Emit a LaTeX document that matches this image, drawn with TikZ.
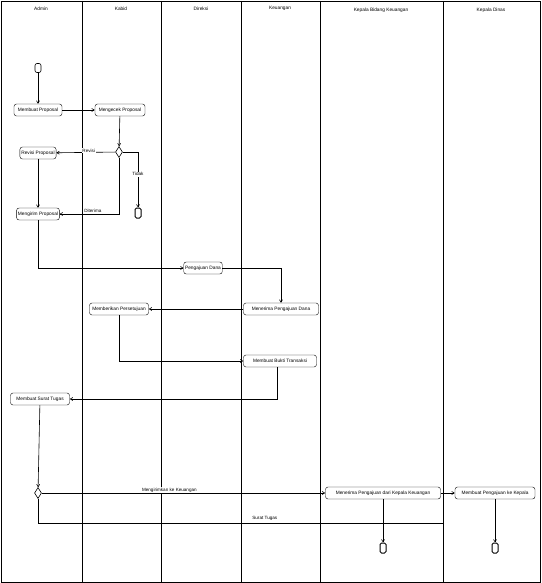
\documentclass[tikz,border=0pt]{standalone}
\usepackage{fontspec}
\setmainfont{Liberation Sans}
\usetikzlibrary{arrows.meta,shapes.geometric}
\begin{document}
\begin{tikzpicture}[x=1pt,y=-1pt,
  act/.style={draw,rounded corners=2.5pt,inner sep=1.4pt,minimum height=12pt,font=\fontsize{4.8}{5}\selectfont},
  lane/.style={draw,line width=0.6pt},
  flow/.style={draw,line width=0.6pt,-{Straight Barb[length=2.5pt,width=3pt]}},
  line/.style={draw,line width=0.6pt},
  lbl/.style={fill=white,inner sep=0.8pt,font=\fontsize{4.6}{5}\selectfont},
  hdr/.style={font=\fontsize{4.8}{5}\selectfont},
  dec/.style={draw,diamond,aspect=0.7,inner sep=0pt,minimum width=7pt,minimum height=11pt,line width=0.6pt},
  start/.style={draw,rounded corners=2pt,minimum width=6pt,minimum height=9pt,inner sep=0pt,line width=0.6pt},
  stop/.style={draw,rounded corners=1.5pt,minimum width=6pt,minimum height=10pt,inner sep=0pt,line width=1pt}]
\useasboundingbox (0,0) rectangle (541,583);
\draw[lane] (1,1) rectangle (540,582);
\foreach \x in {82,161,241,320,443} \draw[lane] (\x,1) -- (\x,582);
\node[hdr] (h1) at (41,9) {Admin};
\node[hdr] (h2) at (121,9) {Kabid};
\node[hdr] (h3) at (201,9) {Direksi};
\node[hdr] (h4) at (280,8) {Keuangan};
\node[hdr] (h5) at (381,10) {Kepala Bidang Keuangan};
\node[hdr] (h6) at (491,10) {Kepala Dinas};

\node[start] (s) at (38,68) {};
\node[act,minimum width=48pt] (a1) at (38,110) {Membuat Proposal};
\node[act,minimum width=50pt] (a2) at (120,110) {Mengecek Proposal};
\node[dec] (d1) at (119,152) {};
\node[act] (a3) at (38,153) {Revisi Proposal};
\node[stop] (e1) at (138,213) {};
\node[act] (a4) at (38,214) {Mengirim Proposal};
\node[act] (a5) at (203,268) {Pengajuan Dana};
\node[act,minimum width=75pt] (a6) at (281,309) {Menerima Pengajuan Dana};
\node[act,minimum width=59pt] (a7) at (119,309) {Memberikan Persetujuan};
\node[act,minimum width=73pt] (a8) at (280,361) {Membuat Bukti Transaksi};
\node[act,minimum width=59pt] (a9) at (40,399) {Membuat Surat Tugas};
\node[dec] (d2) at (38,493) {};
\node[act,minimum width=115pt] (a10) at (383,493) {Menerima Pengajuan dari Kepala Keuangan};
\node[act,minimum width=80pt] (a11) at (495,493) {Membuat Pengajuan ke Kepala};
\node[stop] (e2) at (383,548) {};
\node[stop] (e3) at (495,548) {};
\coordinate (j1) at (443,523);

\path[flow] (s) -- (a1);
\path[flow] (a1) -- (a2);
\path[flow] (a2) -- (d1);
\path[flow] (d1) -- node[lbl,pos=0.45,yshift=2pt] {Revisi} (a3);
\path[flow] (d1.east) -| node[lbl,pos=0.7] {Tidak} (e1);
\path[flow] (d1.south) |- node[lbl,pos=0.72,yshift=3pt] {Diterima} (a4);
\path[flow] (a3) -- (a4);
\path[flow] (a4) |- (a5);
\path[flow] (a5) -| (a6);
\path[flow] (a6) -- (a7);
\path[flow] (a7) |- (a8);
\path[flow] (a8.south -| 277,0) |- (a9);
\path[flow] (a9) -- (d2);
\path[flow] (d2) -- node[lbl,pos=0.45,yshift=3pt] {Mengirimkan ke Keuangan} (a10);
\path[line] (d2.south) |- node[lbl,pos=0.78,yshift=5pt] {Surat Tugas} (j1);
\path[flow] (a10) -- (a11);
\path[flow] (a10) -- (e2);
\path[flow] (a11) -- (e3);
\end{tikzpicture}
\end{document}
